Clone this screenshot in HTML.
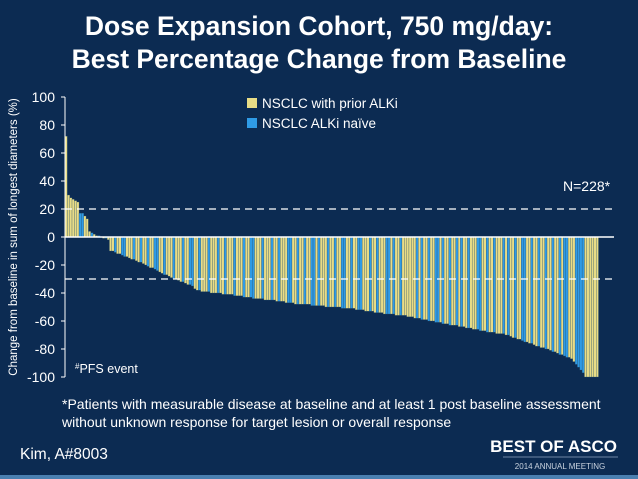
<!DOCTYPE html>
<html><head><meta charset="utf-8"><style>
body{margin:0;width:638px;height:479px;overflow:hidden;background:#0c2b52;font-family:"Liberation Sans",sans-serif;}
</style></head><body>
<svg width="638" height="479" style="position:absolute;left:0;top:0">
<rect x="0" y="0" width="638" height="479" fill="#0c2b52"/>
<rect x="0" y="475" width="638" height="4" fill="#4a7fb0"/>
<text x="319" y="35" text-anchor="middle" fill="#fff" font-size="26.5" font-weight="bold">Dose Expansion Cohort, 750 mg/day:</text>
<text x="319" y="68" text-anchor="middle" fill="#fff" font-size="26.5" font-weight="bold">Best Percentage Change from Baseline</text>
<g id="bars"></g>
<g id="axis"></g>
<text transform="translate(17,237) rotate(-90)" text-anchor="middle" fill="#fff" font-size="11.5">Change from baseline in sum of longest diameters (%)</text>
<rect x="247" y="98" width="10" height="10" fill="#e8dc86"/>
<text x="262" y="108" fill="#fff" font-size="13.5">NSCLC with prior ALKi</text>
<rect x="247" y="118" width="10" height="10" fill="#2f9be6"/>
<text x="262" y="128" fill="#fff" font-size="13.5">NSCLC ALKi naïve</text>
<text x="563" y="191" fill="#fff" font-size="14">N=228*</text>
<text x="75" y="373" fill="#fff" font-size="12.5"><tspan font-size="8" dy="-4">#</tspan><tspan dy="4">PFS event</tspan></text>
<text x="62" y="409" fill="#fff" font-size="14">*Patients with measurable disease at baseline and at least 1 post baseline assessment</text>
<text x="62" y="427" fill="#fff" font-size="14">without unknown response for target lesion or overall response</text>
<text x="20" y="459" fill="#fff" font-size="15.5">Kim, A#8003</text>
<text x="617" y="452" text-anchor="end" fill="#fff" font-size="17" font-weight="bold">BEST OF ASCO</text>
<line x1="503" y1="457" x2="618" y2="457" stroke="#8fa6c0" stroke-width="0.8"/>
<text x="560" y="469" text-anchor="middle" fill="#c9d3df" font-size="8">2014 ANNUAL MEETING</text>
</svg>
<script>
const values=[72,30,28,27,26,25,17,17,15,13,
4,3,2,1,1,0,-1,-1,-2,
-10,-10,-11,-12,-12,-13,-14,-14,-15,-16,-16,-17,-18,-18,-19,-20,
-21,-22,-22,-23,-24,-25,-26,-27,-27,-28,-29,
-30,-30,-31,-32,-32,-33,-34,-34,-35,
-37,-38,-38,-39,
-39,-39,-39,-40,-40,-40,-40,-40,-41,-41,-41,-41,
-41,-42,-42,-42,-42,-43,-43,-43,-43,-44,-44,-44,-44,-44,-45,-45,-45,
-45,-45,-46,-46,-46,-46,-47,-47,-47,-47,-48,-48,-48,
-48,-48,-48,-48,-49,-49,-49,-49,-49,-49,-50,-50,-50,-50,-50,-50,-50,-51,-51,-51,-51,-51,
-51,-52,-52,-52,-52,-53,-53,-53,-53,-54,-54,-54,-54,-55,-55,-55,-55,-55,-56,-56,-56,-56,
-56,-57,-57,-57,-58,-58,-58,-59,-59,-59,-60,-60,-60,-61,-61,-61,-62,-62,-62,-63,-63,
-63,-63,-64,-64,-64,-65,-65,-65,-66,-66,-66,-67,-67,-67,-68,-68,-68,-68,-69,-69,-69,
-69,-70,-70,-71,-72,-72,-73,-73,-74,-75,-75,-76,-76,-77,-78,-78,-79,
-79,-80,-80,-81,-82,-82,-83,-84,-84,-85,-86,-86,-87,
-89,-91,-93,-95,-97,
-100,-100,-100,-100,-100,-100];
const groups=("YYYYYYBBYY"+"YBYYBYYBY"+"YYBYYBBYYYBYYBYY"+"BYYBBYYBYYY"+"BYYYBYYBB"+"YYBY"+"YYBYYYBYYBYY"+"YBYYYBYYBBYYYBYYY"+"BYYBYYYBBYYBY"+"YBYYBBYBYYYBYYBYYBBYYB"+"YYBBYYYBYYBYYYBBYBYYBY"+"YYYYYBYBYYBYYBBYBYYBY"+"YBYBYYBYYYBBYYBYYBYYY"+"BYBYYBYYBBYYBYYBY"+"YBYYBYYBYBBYY"+"YBBBB"+"YYYYYY").split("");
const ticks=[100,80,60,40,20,0,-20,-40,-60,-80,-100];
const refLines=[20,-30];
const NS="http://www.w3.org/2000/svg";
const x0=65,x1=598.5,lineEnd=614;
const y=v=>237-v*1.4;
const bw=(x1-x0)/values.length;
const xs=i=>x0+i*bw;
const bars=document.getElementById('bars');
values.forEach((v,i)=>{
 const r=document.createElementNS(NS,'rect');
 r.setAttribute('x',xs(i));r.setAttribute('width',bw);
 r.setAttribute('y',Math.min(y(v),y(0)));r.setAttribute('height',Math.abs(y(v)-y(0)));
 r.setAttribute('fill',groups[i]==='B'?'#2f9be6':'#e8dc86');
 r.setAttribute('stroke','#2c5570');r.setAttribute('stroke-width','0.3');
 
 
 bars.appendChild(r);
});
const ax=document.getElementById('axis');
function mk(tag,attrs){const e=document.createElementNS(NS,tag);for(const k in attrs)e.setAttribute(k,attrs[k]);ax.appendChild(e);return e;}
const yl=mk('line',{x1:x0,x2:x0,y1:y(100),y2:y(-100),stroke:'#fff','stroke-width':1});


ticks.forEach(t=>{
 const l=mk('line',{x1:x0-4,x2:x0,y1:y(t),y2:y(t),stroke:'#fff','stroke-width':1});
 
 
 const tx=mk('text',{x:55,y:y(t)+5,'text-anchor':'end',fill:'#fff','font-size':14});
 tx.textContent=t;
 
 
});
refLines.forEach(r=>{
 const l=mk('line',{x1:x0,x2:lineEnd,y1:y(r),y2:y(r),stroke:'#fff','stroke-width':1.3,'stroke-dasharray':'7,5'});
 
 
});
const z=mk('line',{x1:x0,x2:lineEnd,y1:y(0),y2:y(0),stroke:'#fff','stroke-width':1.5});


</script>
</body></html>
